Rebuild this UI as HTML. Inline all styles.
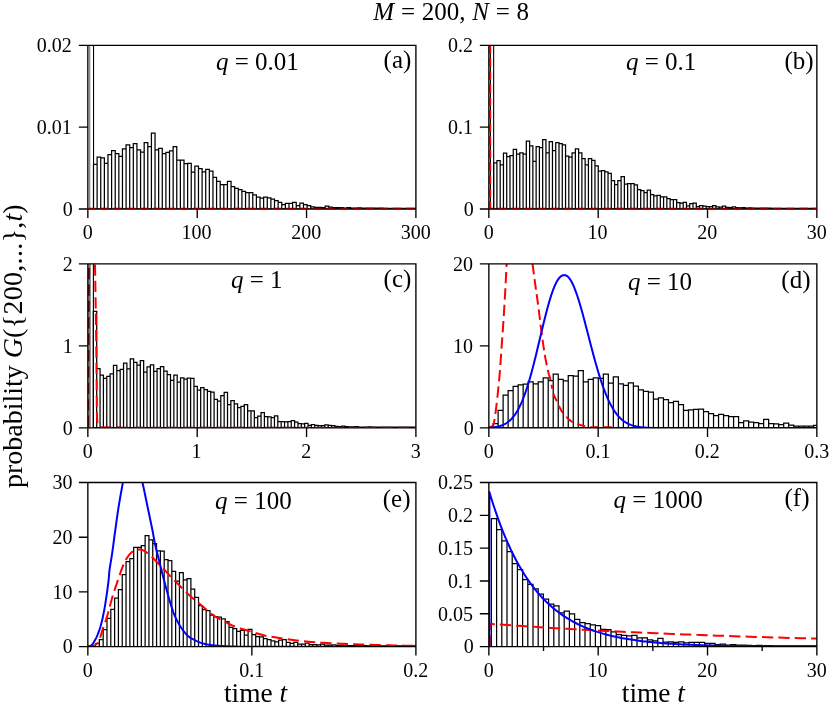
<!DOCTYPE html>
<html><head><meta charset="utf-8"><title>fig</title>
<style>
html,body{margin:0;padding:0;background:#fff;}
svg{display:block;will-change:transform}
text{font-family:"Liberation Serif",serif;fill:#000}
.tk{font-size:20px}
.t25{font-size:25px}
.t28{font-size:28px}
.t27{font-size:27.4px}
.i{font-style:italic}
</style></head><body>
<svg width="830" height="704" viewBox="0 0 830 704">
<rect width="830" height="704" fill="#fff"/>
<defs>
<clipPath id="c0"><rect x="87.85" y="45.3" width="328.05" height="163.7"/></clipPath>
<clipPath id="c1"><rect x="488.85" y="45.3" width="328" height="163.7"/></clipPath>
<clipPath id="c2"><rect x="87.85" y="263.85" width="328.05" height="164.05"/></clipPath>
<clipPath id="c3"><rect x="488.85" y="263.85" width="328" height="164.05"/></clipPath>
<clipPath id="c4"><rect x="87.85" y="482.5" width="328.05" height="164.1"/></clipPath>
<clipPath id="c5"><rect x="488.85" y="482.5" width="328" height="164.1"/></clipPath>
</defs>
<g clip-path="url(#c0)">
<path d="M89.75 209V30" stroke="#666" stroke-width="1" fill="none"/>
<path d="M93.55 209V30" stroke="#000" stroke-width="1.1" fill="none"/>
<path d="M93.5 209V164.3H97.12V209Z M97.12 209V157.1H100.74V209Z M100.74 209V157.8H104.36V209Z M104.36 209V163.3H107.98V209Z M107.98 209V154.6H111.6V209Z M111.6 209V150.6H115.22V209Z M115.22 209V153.5H118.84V209Z M118.84 209V156.4H122.46V209Z M122.46 209V148.8H126.08V209Z M126.08 209V144.8H129.7V209Z M129.7 209V147.7H133.32V209Z M133.32 209V143.6H136.94V209Z M136.94 209V149.9H140.56V209Z M140.56 209V152H144.18V209Z M144.18 209V142.6H147.8V209Z M147.8 209V146.5H151.42V209Z M151.42 209V133.2H155.04V209Z M155.04 209V149.9H158.66V209Z M158.66 209V148.4H162.28V209Z M162.28 209V153.5H165.9V209Z M165.9 209V152.3H169.52V209Z M169.52 209V150.9H173.14V209Z M173.14 209V146.5H176.76V209Z M176.76 209V160H180.38V209Z M180.38 209V160H184V209Z M184 209V163.6H187.62V209Z M187.62 209V163.3H191.24V209Z M191.24 209V172H194.86V209Z M194.86 209V166.1H198.48V209Z M198.48 209V168.7H202.1V209Z M202.1 209V171.9H205.72V209Z M205.72 209V169.3H209.34V209Z M209.34 209V171.2H212.96V209Z M212.96 209V177.4H216.58V209Z M216.58 209V181.3H220.2V209Z M220.2 209V184.6H223.82V209Z M223.82 209V184.6H227.44V209Z M227.44 209V181.3H231.06V209Z M231.06 209V186.7H234.68V209Z M234.68 209V188.3H238.3V209Z M238.3 209V189.6H241.92V209Z M241.92 209V191.4H245.54V209Z M245.54 209V192.5H249.16V209Z M249.16 209V192.5H252.78V209Z M252.78 209V194.8H256.4V209Z M256.4 209V197.2H260.02V209Z M260.02 209V198.2H263.64V209Z M263.64 209V197.2H267.26V209Z M267.26 209V197.9H270.88V209Z M270.88 209V199H274.5V209Z M274.5 209V200.5H278.12V209Z M278.12 209V202.3H281.74V209Z M281.74 209V204.5H285.36V209Z M285.36 209V203.3H288.98V209Z M288.98 209V203.3H292.6V209Z M292.6 209V202.3H296.22V209Z M296.22 209V205.5H299.84V209Z M299.84 209V203H303.46V209Z M303.46 209V204.5H307.08V209Z M307.08 209V205.5H310.7V209Z M310.7 209V206.9H314.32V209Z M314.32 209V207.4H317.94V209Z M317.94 209V207.4H321.56V209Z M321.56 209V207.6H325.18V209Z M325.18 209V206.2H328.8V209Z M328.8 209V207H332.42V209Z M332.42 209V207.5H336.04V209Z M336.04 209V207.7H339.66V209Z M339.66 209V207.5H343.28V209Z M343.28 209V208H346.9V209Z M346.9 209V207.6H350.52V209Z M350.52 209V208H354.14V209Z M354.14 209V208H357.76V209Z M357.76 209V207.8H361.38V209Z M361.38 209V208.1H365V209Z M365 209V208.1H368.62V209Z M368.62 209V208H372.24V209Z M372.24 209V208.2H375.86V209Z M375.86 209V208.2H379.48V209Z M379.48 209V208.2H383.1V209Z M383.1 209V208.3H386.72V209Z M386.72 209V208.3H390.34V209Z M390.34 209V208.3H393.96V209Z M393.96 209V208.3H397.58V209Z M397.58 209V208.3H401.2V209Z M401.2 209V208.3H404.82V209Z M404.82 209V208.3H408.44V209Z M408.44 209V208.3H412.06V209Z M412.06 209V208.3H415.68V209Z M415.68 209V208.3H419.3V209Z" stroke="#000" stroke-width="1.25" fill="#fff" stroke-linejoin="miter"/>
</g>
<g clip-path="url(#c1)">
<path d="M490.4 209V30" stroke="#000" stroke-width="1.1" fill="none"/>
<path d="M493.65 209V162.9H496.92V209Z M496.92 209V160.7H500.19V209Z M500.19 209V164.8H503.45V209Z M503.45 209V153.2H506.72V209Z M506.72 209V156.7H509.99V209Z M509.99 209V155.7H513.26V209Z M513.26 209V149.4H516.53V209Z M516.53 209V154.2H519.79V209Z M519.79 209V152.8H523.06V209Z M523.06 209V154.2H526.33V209Z M526.33 209V141.2H529.6V209Z M529.6 209V145.9H532.87V209Z M532.87 209V161.4H536.13V209Z M536.13 209V146.5H539.4V209Z M539.4 209V147.7H542.67V209Z M542.67 209V139.7H545.94V209Z M545.94 209V152.8H549.21V209Z M549.21 209V141.6H552.47V209Z M552.47 209V150.6H555.74V209Z M555.74 209V142.6H559.01V209Z M559.01 209V143.6H562.28V209Z M562.28 209V144.8H565.55V209Z M565.55 209V156.1H568.81V209Z M568.81 209V157.1H572.08V209Z M572.08 209V152.8H575.35V209Z M575.35 209V148.8H578.62V209Z M578.62 209V152.8H581.89V209Z M581.89 209V158.6H585.15V209Z M585.15 209V164.8H588.42V209Z M588.42 209V158.6H591.69V209Z M591.69 209V160.4H594.96V209Z M594.96 209V165.8H598.23V209Z M598.23 209V171.2H601.49V209Z M601.49 209V170.5H604.76V209Z M604.76 209V171.9H608.03V209Z M608.03 209V173.4H611.3V209Z M611.3 209V180.6H614.57V209Z M614.57 209V184.6H617.83V209Z M617.83 209V180.6H621.1V209Z M621.1 209V176.6H624.37V209Z M624.37 209V184.2H627.64V209Z M627.64 209V183.5H630.91V209Z M630.91 209V183.5H634.17V209Z M634.17 209V184.9H637.44V209Z M637.44 209V189.6H640.71V209Z M640.71 209V190.7H643.98V209Z M643.98 209V192.5H647.25V209Z M647.25 209V190H650.51V209Z M650.51 209V194.6H653.78V209Z M653.78 209V195.8H657.05V209Z M657.05 209V195.3H660.32V209Z M660.32 209V196.8H663.59V209Z M663.59 209V196.8H666.85V209Z M666.85 209V198.7H670.12V209Z M670.12 209V199.7H673.39V209Z M673.39 209V199.7H676.66V209Z M676.66 209V202.6H679.93V209Z M679.93 209V203H683.19V209Z M683.19 209V202.3H686.46V209Z M686.46 209V205.9H689.73V209Z M689.73 209V203.7H693V209Z M693 209V203H696.27V209Z M696.27 209V206.6H699.53V209Z M699.53 209V205.5H702.8V209Z M702.8 209V206.2H706.07V209Z M706.07 209V206.6H709.34V209Z M709.34 209V206.6H712.61V209Z M712.61 209V205.5H715.87V209Z M715.87 209V206.8H719.14V209Z M719.14 209V207H722.41V209Z M722.41 209V206.2H725.68V209Z M725.68 209V207.3H728.95V209Z M728.95 209V207.5H732.21V209Z M732.21 209V206.8H735.48V209Z M735.48 209V207.6H738.75V209Z M738.75 209V207.8H742.02V209Z M742.02 209V207.5H745.29V209Z M745.29 209V208H748.55V209Z M748.55 209V207.9H751.82V209Z M751.82 209V208H755.09V209Z M755.09 209V208.1H758.36V209Z M758.36 209V208.1H761.63V209Z M761.63 209V208.2H764.89V209Z M764.89 209V208.2H768.16V209Z M768.16 209V208.2H771.43V209Z M771.43 209V208.3H774.7V209Z M774.7 209V208.3H777.97V209Z M777.97 209V208.3H781.23V209Z M781.23 209V208.3H784.5V209Z M784.5 209V208.3H787.77V209Z M787.77 209V208.3H791.04V209Z M791.04 209V208.3H794.31V209Z M794.31 209V208.3H797.57V209Z M797.57 209V208.3H800.84V209Z M800.84 209V208.3H804.11V209Z M804.11 209V208.3H807.38V209Z M807.38 209V208.3H810.65V209Z M810.65 209V208.3H813.91V209Z M813.91 209V208.3H817.18V209Z" stroke="#000" stroke-width="1.25" fill="#fff" stroke-linejoin="miter"/>
<path d="M493.65 209V30" stroke="#000" stroke-width="1.1" fill="none"/>
<path d="M490.2 209V45.3" stroke="#ff0000" stroke-width="2" stroke-dasharray="8.7 4.35" stroke-dashoffset="1.4" fill="none"/>
</g>
<g clip-path="url(#c2)">
<rect x="88.3" y="200" width="2.5" height="300" fill="#7c7c7c"/>
<path d="M87.9 427.9L89.1 260.85" stroke="#8b0000" stroke-width="2.1" stroke-dasharray="11.3 5.1" stroke-dashoffset="-1" fill="none"/>
<path d="M93.35 427.9V311.3H96.7V427.9Z M96.7 427.9V368.5H100.06V427.9Z M100.06 427.9V375.1H103.41V427.9Z M103.41 427.9V378.4H106.77V427.9Z M106.77 427.9V376.4H110.12V427.9Z M110.12 427.9V373.8H113.47V427.9Z M113.47 427.9V365.4H116.83V427.9Z M116.83 427.9V370.7H120.18V427.9Z M120.18 427.9V369.4H123.54V427.9Z M123.54 427.9V363.2H126.89V427.9Z M126.89 427.9V368.9H130.24V427.9Z M130.24 427.9V358.8H133.6V427.9Z M133.6 427.9V362.3H136.95V427.9Z M136.95 427.9V365.2H140.31V427.9Z M140.31 427.9V360.5H143.66V427.9Z M143.66 427.9V372.1H147.01V427.9Z M147.01 427.9V366.8H150.37V427.9Z M150.37 427.9V364.8H153.72V427.9Z M153.72 427.9V371.4H157.08V427.9Z M157.08 427.9V368.5H160.43V427.9Z M160.43 427.9V366.5H163.78V427.9Z M163.78 427.9V371.1H167.14V427.9Z M167.14 427.9V374.5H170.49V427.9Z M170.49 427.9V380.4H173.85V427.9Z M173.85 427.9V375.1H177.2V427.9Z M177.2 427.9V382.1H180.55V427.9Z M180.55 427.9V377.8H183.91V427.9Z M183.91 427.9V379.1H187.26V427.9Z M187.26 427.9V378H190.62V427.9Z M190.62 427.9V378.4H193.97V427.9Z M193.97 427.9V386.4H197.32V427.9Z M197.32 427.9V390.1H200.68V427.9Z M200.68 427.9V387.7H204.03V427.9Z M204.03 427.9V389.7H207.39V427.9Z M207.39 427.9V391.4H210.74V427.9Z M210.74 427.9V392H214.09V427.9Z M214.09 427.9V399.4H217.45V427.9Z M217.45 427.9V401H220.8V427.9Z M220.8 427.9V395.7H224.16V427.9Z M224.16 427.9V392.4H227.51V427.9Z M227.51 427.9V404.5H230.86V427.9Z M230.86 427.9V400.7H234.22V427.9Z M234.22 427.9V403.9H237.57V427.9Z M237.57 427.9V407.6H240.93V427.9Z M240.93 427.9V406.3H244.28V427.9Z M244.28 427.9V404.5H247.63V427.9Z M247.63 427.9V410.9H250.99V427.9Z M250.99 427.9V410.9H254.34V427.9Z M254.34 427.9V417.5H257.7V427.9Z M257.7 427.9V416.2H261.05V427.9Z M261.05 427.9V412.6H264.4V427.9Z M264.4 427.9V416.6H267.76V427.9Z M267.76 427.9V416.9H271.11V427.9Z M271.11 427.9V417.5H274.47V427.9Z M274.47 427.9V415.8H277.82V427.9Z M277.82 427.9V421.5H281.17V427.9Z M281.17 427.9V421.5H284.53V427.9Z M284.53 427.9V421.8H287.88V427.9Z M287.88 427.9V421.5H291.24V427.9Z M291.24 427.9V420.6H294.59V427.9Z M294.59 427.9V422.2H297.94V427.9Z M297.94 427.9V423.5H301.3V427.9Z M301.3 427.9V423.9H304.65V427.9Z M304.65 427.9V423.4H308.01V427.9Z M308.01 427.9V425.4H311.36V427.9Z M311.36 427.9V424.5H314.71V427.9Z M314.71 427.9V425.4H318.07V427.9Z M318.07 427.9V425.7H321.42V427.9Z M321.42 427.9V425.7H324.78V427.9Z M324.78 427.9V424.9H328.13V427.9Z M328.13 427.9V425.4H331.48V427.9Z M331.48 427.9V425.7H334.84V427.9Z M334.84 427.9V426.3H338.19V427.9Z M338.19 427.9V426.5H341.55V427.9Z M341.55 427.9V426H344.9V427.9Z M344.9 427.9V426.6H348.25V427.9Z M348.25 427.9V426.8H351.61V427.9Z M351.61 427.9V426.8H354.96V427.9Z M354.96 427.9V426.5H358.32V427.9Z M358.32 427.9V427H361.67V427.9Z M361.67 427.9V427H365.02V427.9Z M365.02 427.9V427H368.38V427.9Z M368.38 427.9V426.8H371.73V427.9Z M371.73 427.9V427.1H375.09V427.9Z M375.09 427.9V427.1H378.44V427.9Z M378.44 427.9V427.1H381.79V427.9Z M381.79 427.9V427.2H385.15V427.9Z M385.15 427.9V427.2H388.5V427.9Z M388.5 427.9V427.2H391.86V427.9Z M391.86 427.9V427.2H395.21V427.9Z M395.21 427.9V427.2H398.56V427.9Z M398.56 427.9V427.2H401.92V427.9Z M401.92 427.9V427.2H405.27V427.9Z M405.27 427.9V427.2H408.63V427.9Z M408.63 427.9V427.2H411.98V427.9Z M411.98 427.9V427.2H415.33V427.9Z M415.33 427.9V427.2H418.69V427.9Z" stroke="#000" stroke-width="1.25" fill="#fff" stroke-linejoin="miter"/>
<path d="M93.4 427.9V30" stroke="#000" stroke-width="1.1" fill="none"/>
<path d="M94.7 250 L94.72 250.93 L94.75 252 L94.78 253.26 L94.81 254.75 L94.85 256.52 L94.9 258.62 L94.95 261.1 L95 264 L95.06 267.42 L95.13 271.36 L95.2 275.71 L95.28 280.38 L95.36 285.24 L95.44 290.2 L95.52 295.16 L95.6 300 L95.68 304.81 L95.75 309.72 L95.83 314.71 L95.91 319.75 L95.99 324.82 L96.06 329.91 L96.13 334.97 L96.2 340 L96.26 345.03 L96.32 350.12 L96.37 355.22 L96.42 360.31 L96.46 365.37 L96.51 370.35 L96.55 375.24 L96.6 380 L96.64 384.79 L96.68 389.7 L96.71 394.62 L96.75 399.42 L96.78 403.98 L96.83 408.17 L96.88 411.89 L96.95 415 L97.03 417.44 L97.12 419.29 L97.23 420.66 L97.33 421.67 L97.45 422.43 L97.57 423.04 L97.68 423.63 L97.8 424.3 L97.9 424.97 L97.99 425.49 L98.07 425.9 L98.15 426.21 L98.26 426.45 L98.39 426.64 L98.57 426.82 L98.8 427 L98.99 427.16 L99.1 427.27 L99.19 427.34 L99.34 427.37 L99.62 427.38 L100.11 427.38 L100.88 427.38 L102 427.4 L103.66 427.42 L105.88 427.43 L108.46 427.43 L111.2 427.42 L113.92 427.42 L116.42 427.41 L118.51 427.4 L120 427.4" stroke="#ff0000" stroke-width="2" stroke-dasharray="11.3 5.1" stroke-dashoffset="2" fill="none"/>
</g>
<g clip-path="url(#c3)">
<path d="M493.1 427.9V423.6H498.11V427.9Z M498.11 427.9V410.4H503.12V427.9Z M503.12 427.9V395.2H508.13V427.9Z M508.13 427.9V390.6H513.14V427.9Z M513.14 427.9V386.3H518.15V427.9Z M518.15 427.9V384.8H523.16V427.9Z M523.16 427.9V384.1H528.17V427.9Z M528.17 427.9V381.9H533.18V427.9Z M533.18 427.9V383.8H538.19V427.9Z M538.19 427.9V381.9H543.2V427.9Z M543.2 427.9V377.9H548.21V427.9Z M548.21 427.9V380.5H553.22V427.9Z M553.22 427.9V374H558.23V427.9Z M558.23 427.9V379.3H563.24V427.9Z M563.24 427.9V380.8H568.25V427.9Z M568.25 427.9V375.7H573.26V427.9Z M573.26 427.9V376.1H578.27V427.9Z M578.27 427.9V370.6H583.28V427.9Z M583.28 427.9V381.9H588.29V427.9Z M588.29 427.9V379.3H593.3V427.9Z M593.3 427.9V377.9H598.31V427.9Z M598.31 427.9V378.3H603.32V427.9Z M603.32 427.9V374.2H608.33V427.9Z M608.33 427.9V383.1H613.34V427.9Z M613.34 427.9V376.9H618.35V427.9Z M618.35 427.9V383.8H623.36V427.9Z M623.36 427.9V385.3H628.37V427.9Z M628.37 427.9V382.8H633.38V427.9Z M633.38 427.9V386H638.39V427.9Z M638.39 427.9V389.9H643.4V427.9Z M643.4 427.9V391.3H648.41V427.9Z M648.41 427.9V392H653.42V427.9Z M653.42 427.9V399H658.43V427.9Z M658.43 427.9V397.8H663.44V427.9Z M663.44 427.9V399.6H668.45V427.9Z M668.45 427.9V402.5H673.46V427.9Z M673.46 427.9V401.4H678.47V427.9Z M678.47 427.9V404.6H683.48V427.9Z M683.48 427.9V410.4H688.49V427.9Z M688.49 427.9V409.8H693.5V427.9Z M693.5 427.9V409.4H698.51V427.9Z M698.51 427.9V409H703.52V427.9Z M703.52 427.9V411.5H708.53V427.9Z M708.53 427.9V413.7H713.54V427.9Z M713.54 427.9V415.7H718.55V427.9Z M718.55 427.9V414.4H723.56V427.9Z M723.56 427.9V415.5H728.57V427.9Z M728.57 427.9V416.7H733.58V427.9Z M733.58 427.9V416.7H738.59V427.9Z M738.59 427.9V422.7H743.6V427.9Z M743.6 427.9V420.9H748.61V427.9Z M748.61 427.9V422H753.62V427.9Z M753.62 427.9V422.7H758.63V427.9Z M758.63 427.9V423.5H763.64V427.9Z M763.64 427.9V419.4H768.65V427.9Z M768.65 427.9V423.5H773.66V427.9Z M773.66 427.9V423.9H778.67V427.9Z M778.67 427.9V424.5H783.68V427.9Z M783.68 427.9V423H788.69V427.9Z M788.69 427.9V425H793.7V427.9Z M793.7 427.9V426H798.71V427.9Z M798.71 427.9V426.2H803.72V427.9Z M803.72 427.9V426.2H808.73V427.9Z M808.73 427.9V426.2H813.74V427.9Z M813.74 427.9V425.4H818.75V427.9Z" stroke="#000" stroke-width="1.25" fill="#fff" stroke-linejoin="miter"/>
<path d="M489.2 427.6 L489.38 427.53 L489.62 427.44 L489.9 427.34 L490.21 427.22 L490.54 427.08 L490.88 426.91 L491.2 426.72 L491.5 426.5 L491.78 426.35 L492.04 426.31 L492.31 426.31 L492.57 426.26 L492.84 426.06 L493.11 425.64 L493.4 424.92 L493.7 423.8 L494.02 422.29 L494.35 420.47 L494.7 418.38 L495.05 416.04 L495.41 413.5 L495.77 410.79 L496.14 407.95 L496.5 405 L496.87 401.84 L497.26 398.4 L497.66 394.74 L498.06 390.95 L498.45 387.1 L498.82 383.28 L499.18 379.55 L499.5 376 L499.79 372.63 L500.05 369.38 L500.28 366.21 L500.51 363.06 L500.72 359.91 L500.94 356.71 L501.16 353.42 L501.4 350 L501.65 346.44 L501.92 342.78 L502.19 339.04 L502.46 335.25 L502.73 331.43 L502.99 327.59 L503.25 323.78 L503.5 320 L503.74 316.22 L503.98 312.41 L504.22 308.57 L504.45 304.75 L504.67 300.96 L504.89 297.22 L505.1 293.56 L505.3 290 L505.49 286.58 L505.66 283.29 L505.82 280.09 L505.98 276.94 L506.13 273.79 L506.28 270.62 L506.44 267.37 L506.6 264 L506.78 260.32 L506.98 256.28 L507.18 252.07 L507.38 247.88 L507.57 243.88 L507.75 240.28 L507.89 237.26 L508 235" stroke="#ff0000" stroke-width="2" stroke-dasharray="11.3 5.1" fill="none"/>
<path d="M532.55 263.9 L532.74 265.36 L532.99 267.25 L533.28 269.49 L533.61 272.02 L533.96 274.74 L534.34 277.58 L534.72 280.46 L535.1 283.3 L535.5 286.19 L535.92 289.25 L536.37 292.43 L536.83 295.69 L537.29 298.98 L537.74 302.26 L538.18 305.48 L538.6 308.6 L538.99 311.63 L539.35 314.62 L539.71 317.57 L540.05 320.5 L540.39 323.42 L540.75 326.33 L541.11 329.26 L541.5 332.2 L541.91 335.21 L542.34 338.3 L542.78 341.41 L543.23 344.52 L543.68 347.56 L544.12 350.51 L544.57 353.3 L545 355.9 L545.43 358.34 L545.87 360.69 L546.32 362.92 L546.76 365.04 L547.18 367.01 L547.59 368.84 L547.96 370.51 L548.3 372 L548.59 373.23 L548.85 374.17 L549.07 374.9 L549.27 375.51 L549.46 376.07 L549.66 376.67 L549.87 377.38 L550.1 378.3 L550.37 379.47 L550.67 380.86 L550.99 382.36 L551.31 383.89 L551.62 385.38 L551.9 386.74 L552.13 387.87 L552.3 388.7" stroke="#ff0000" stroke-width="2" stroke-dasharray="10.6 4.7" fill="none"/>
<path d="M553.4 393.8 L553.54 394.13 L553.72 394.57 L553.94 395.1 L554.19 395.69 L554.45 396.3 L554.71 396.91 L554.96 397.48 L555.2 398 L555.43 398.46 L555.66 398.91 L555.89 399.34 L556.12 399.76 L556.35 400.17 L556.58 400.58 L556.79 400.99 L557 401.4 L557.19 401.8 L557.36 402.19 L557.52 402.56 L557.68 402.94 L557.84 403.32 L558.01 403.72 L558.19 404.14 L558.4 404.6 L558.63 405.09 L558.86 405.62 L559.11 406.17 L559.37 406.73 L559.65 407.3 L559.92 407.88 L560.21 408.45 L560.5 409 L560.8 409.55 L561.1 410.1 L561.41 410.65 L561.72 411.2 L562.05 411.74 L562.39 412.28 L562.74 412.8 L563.1 413.3 L563.48 413.79 L563.88 414.27 L564.3 414.73 L564.72 415.19 L565.15 415.63 L565.57 416.07 L565.99 416.49 L566.4 416.9 L566.8 417.3 L567.19 417.69 L567.58 418.07 L567.97 418.44 L568.35 418.79 L568.74 419.14 L569.12 419.48 L569.5 419.8 L569.87 420.11 L570.22 420.41 L570.56 420.69 L570.9 420.96 L571.25 421.23 L571.63 421.49 L572.04 421.74 L572.5 422 L573.01 422.26 L573.58 422.51 L574.18 422.76 L574.8 423.01 L575.43 423.24 L576.05 423.47 L576.64 423.69 L577.2 423.9 L577.72 424.09 L578.21 424.27 L578.69 424.44 L579.16 424.61 L579.61 424.76 L580.07 424.91 L580.53 425.06 L581 425.2 L581.46 425.34 L581.91 425.48 L582.35 425.61 L582.79 425.74 L583.25 425.86 L583.73 425.98 L584.24 426.09 L584.8 426.2 L585.44 426.31 L586.18 426.41 L586.98 426.52 L587.79 426.61 L588.57 426.7 L589.27 426.78 L589.86 426.85 L590.3 426.9" stroke="#ff0000" stroke-width="2" stroke-dasharray="8.3 5.0" fill="none"/>
<path d="M590.3 427H612" stroke="#e00000" stroke-width="1.6" stroke-dasharray="8.2 5.0" fill="none"/>
<path d="M488.85 427.74 L489.51 427.69 L490.16 427.65 L490.82 427.59 L491.48 427.54 L492.14 427.47 L492.79 427.4 L493.45 427.32 L494.11 427.24 L494.77 427.14 L495.42 427.04 L496.08 426.93 L496.74 426.8 L497.4 426.67 L498.05 426.52 L498.71 426.36 L499.37 426.18 L500.02 425.99 L500.68 425.79 L501.34 425.56 L502 425.32 L502.65 425.06 L503.31 424.78 L503.97 424.47 L504.63 424.14 L505.28 423.78 L505.94 423.4 L506.6 422.99 L507.25 422.55 L507.91 422.08 L508.57 421.58 L509.23 421.04 L509.88 420.46 L510.54 419.85 L511.2 419.2 L511.86 418.51 L512.51 417.77 L513.17 416.99 L513.83 416.16 L514.49 415.29 L515.14 414.36 L515.8 413.39 L516.46 412.36 L517.11 411.28 L517.77 410.14 L518.43 408.94 L519.09 407.69 L519.74 406.38 L520.4 405.01 L521.06 403.57 L521.72 402.08 L522.37 400.52 L523.03 398.9 L523.69 397.22 L524.34 395.47 L525 393.66 L525.66 391.78 L526.32 389.85 L526.97 387.85 L527.63 385.79 L528.29 383.67 L528.95 381.49 L529.6 379.25 L530.26 376.96 L530.92 374.61 L531.58 372.21 L532.23 369.77 L532.89 367.27 L533.55 364.74 L534.2 362.16 L534.86 359.54 L535.52 356.89 L536.18 354.21 L536.83 351.51 L537.49 348.78 L538.15 346.04 L538.81 343.28 L539.46 340.51 L540.12 337.74 L540.78 334.97 L541.44 332.21 L542.09 329.46 L542.75 326.73 L543.41 324.01 L544.06 321.33 L544.72 318.68 L545.38 316.06 L546.04 313.49 L546.69 310.97 L547.35 308.5 L548.01 306.09 L548.67 303.74 L549.32 301.46 L549.98 299.25 L550.64 297.12 L551.29 295.07 L551.95 293.11 L552.61 291.24 L553.27 289.45 L553.92 287.77 L554.58 286.18 L555.24 284.7 L555.9 283.32 L556.55 282.04 L557.21 280.87 L557.87 279.82 L558.53 278.87 L559.18 278.03 L559.84 277.3 L560.5 276.67 L561.15 276.16 L561.81 275.75 L562.47 275.45 L563.13 275.24 L563.78 275.13 L564.44 275.1 L565.1 275.17 L565.76 275.35 L566.41 275.64 L567.07 276.05 L567.73 276.58 L568.39 277.21 L569.04 277.96 L569.7 278.82 L570.36 279.78 L571.01 280.85 L571.67 282.02 L572.33 283.29 L572.99 284.66 L573.64 286.13 L574.3 287.68 L574.96 289.32 L575.62 291.05 L576.27 292.86 L576.93 294.75 L577.59 296.7 L578.24 298.73 L578.9 300.83 L579.56 302.98 L580.22 305.19 L580.87 307.45 L581.53 309.76 L582.19 312.12 L582.85 314.51 L583.5 316.94 L584.16 319.4 L584.82 321.88 L585.48 324.39 L586.13 326.91 L586.79 329.45 L587.45 331.99 L588.1 334.54 L588.76 337.09 L589.42 339.64 L590.08 342.19 L590.73 344.72 L591.39 347.24 L592.05 349.74 L592.71 352.22 L593.36 354.68 L594.02 357.12 L594.68 359.52 L595.33 361.89 L595.99 364.23 L596.65 366.54 L597.31 368.8 L597.96 371.03 L598.62 373.21 L599.28 375.35 L599.94 377.44 L600.59 379.49 L601.25 381.49 L601.91 383.45 L602.57 385.35 L603.22 387.2 L603.88 389 L604.54 390.75 L605.19 392.45 L605.85 394.1 L606.51 395.7 L607.17 397.24 L607.82 398.73 L608.48 400.17 L609.14 401.57 L609.8 402.91 L610.45 404.2 L611.11 405.44 L611.77 406.63 L612.43 407.78 L613.08 408.88 L613.74 409.93 L614.4 410.94 L615.05 411.91 L615.71 412.83 L616.37 413.71 L617.03 414.55 L617.68 415.35 L618.34 416.12 L619 416.84 L619.66 417.53 L620.31 418.19 L620.97 418.81 L621.63 419.4 L622.28 419.95 L622.94 420.48 L623.6 420.98 L624.26 421.45 L624.91 421.9 L625.57 422.32 L626.23 422.71 L626.89 423.08 L627.54 423.43 L628.2 423.76 L628.86 424.07 L629.52 424.36 L630.17 424.63 L630.83 424.89 L631.49 425.12 L632.14 425.35 L632.8 425.55 L633.46 425.75 L634.12 425.93 L634.77 426.1 L635.43 426.25 L636.09 426.4 L636.75 426.53 L637.4 426.66 L638.06 426.78 L638.72 426.88 L639.38 426.98 L640.03 427.08 L640.69 427.16 L641.35 427.24 L642 427.31 L642.66 427.38 L643.32 427.44 L643.98 427.5 L644.63 427.55 L645.29 427.6 L645.95 427.65 L646.61 427.69 L647.26 427.72 L647.92 427.76 L648.58 427.79 L649.23 427.82 L649.89 427.85 L650.55 427.87 L651.21 427.89 L651.86 427.91 L652.52 427.93 L653.18 427.95 L653.84 427.96 L654.49 427.97 L655.15 427.99 L655.81 428 L656.47 428.01 L657.12 428.02 L657.78 428.03 L658.44 428.03 L659.09 428.04 L659.75 428.05 L660.41 428.05 L661.07 428.06 L661.72 428.06 L662.38 428.07 L663.04 428.07 L663.7 428.07 L664.35 428.08 L665.01 428.08 L665.67 428.08 L666.32 428.08 L666.98 428.08 L667.64 428.09 L668.3 428.09 L668.95 428.09 L669.61 428.09 L670.27 428.09 L670.93 428.09 L671.58 428.09 L672.24 428.09 L672.9 428.09 L673.56 428.1 L674.21 428.1 L674.87 428.1 L675.53 428.1 L676.18 428.1 L676.84 428.1 L677.5 428.1 L678.16 428.1 L678.81 428.1 L679.47 428.1 L680.13 428.1 L680.79 428.1 L681.44 428.1 L682.1 428.1 L682.76 428.1 L683.42 428.1 L684.07 428.1 L684.73 428.1 L685.39 428.1 L686.04 428.1 L686.7 428.1 L687.36 428.1 L688.02 428.1 L688.67 428.1 L689.33 428.1 L689.99 428.1 L690.65 428.1 L691.3 428.1 L691.96 428.1 L692.62 428.1 L693.27 428.1 L693.93 428.1 L694.59 428.1 L695.25 428.1 L695.9 428.1 L696.56 428.1 L697.22 428.1 L697.88 428.1 L698.53 428.1 L699.19 428.1 L699.85 428.1 L700.51 428.1 L701.16 428.1 L701.82 428.1 L702.48 428.1 L703.13 428.1 L703.79 428.1 L704.45 428.1 L705.11 428.1 L705.76 428.1 L706.42 428.1 L707.08 428.1 L707.74 428.1 L708.39 428.1 L709.05 428.1 L709.71 428.1 L710.37 428.1 L711.02 428.1 L711.68 428.1 L712.34 428.1 L712.99 428.1 L713.65 428.1 L714.31 428.1 L714.97 428.1 L715.62 428.1 L716.28 428.1 L716.94 428.1 L717.6 428.1 L718.25 428.1 L718.91 428.1 L719.57 428.1 L720.22 428.1 L720.88 428.1 L721.54 428.1 L722.2 428.1 L722.85 428.1 L723.51 428.1 L724.17 428.1 L724.83 428.1 L725.48 428.1 L726.14 428.1 L726.8 428.1 L727.46 428.1 L728.11 428.1 L728.77 428.1 L729.43 428.1 L730.08 428.1 L730.74 428.1 L731.4 428.1 L732.06 428.1 L732.71 428.1 L733.37 428.1 L734.03 428.1 L734.69 428.1 L735.34 428.1 L736 428.1 L736.66 428.1 L737.31 428.1 L737.97 428.1 L738.63 428.1 L739.29 428.1 L739.94 428.1 L740.6 428.1 L741.26 428.1 L741.92 428.1 L742.57 428.1 L743.23 428.1 L743.89 428.1 L744.55 428.1 L745.2 428.1 L745.86 428.1 L746.52 428.1 L747.17 428.1 L747.83 428.1 L748.49 428.1 L749.15 428.1 L749.8 428.1 L750.46 428.1 L751.12 428.1 L751.78 428.1 L752.43 428.1 L753.09 428.1 L753.75 428.1 L754.41 428.1 L755.06 428.1 L755.72 428.1 L756.38 428.1 L757.03 428.1 L757.69 428.1 L758.35 428.1 L759.01 428.1 L759.66 428.1 L760.32 428.1 L760.98 428.1 L761.64 428.1 L762.29 428.1 L762.95 428.1 L763.61 428.1 L764.26 428.1 L764.92 428.1 L765.58 428.1 L766.24 428.1 L766.89 428.1 L767.55 428.1 L768.21 428.1 L768.87 428.1 L769.52 428.1 L770.18 428.1 L770.84 428.1 L771.5 428.1 L772.15 428.1 L772.81 428.1 L773.47 428.1 L774.12 428.1 L774.78 428.1 L775.44 428.1 L776.1 428.1 L776.75 428.1 L777.41 428.1 L778.07 428.1 L778.73 428.1 L779.38 428.1 L780.04 428.1 L780.7 428.1 L781.36 428.1 L782.01 428.1 L782.67 428.1 L783.33 428.1 L783.98 428.1 L784.64 428.1 L785.3 428.1 L785.96 428.1 L786.61 428.1 L787.27 428.1 L787.93 428.1 L788.59 428.1 L789.24 428.1 L789.9 428.1 L790.56 428.1 L791.21 428.1 L791.87 428.1 L792.53 428.1 L793.19 428.1 L793.84 428.1 L794.5 428.1 L795.16 428.1 L795.82 428.1 L796.47 428.1 L797.13 428.1 L797.79 428.1 L798.45 428.1 L799.1 428.1 L799.76 428.1 L800.42 428.1 L801.07 428.1 L801.73 428.1 L802.39 428.1 L803.05 428.1 L803.7 428.1 L804.36 428.1 L805.02 428.1 L805.68 428.1 L806.33 428.1 L806.99 428.1 L807.65 428.1 L808.3 428.1 L808.96 428.1 L809.62 428.1 L810.28 428.1 L810.93 428.1 L811.59 428.1 L812.25 428.1 L812.91 428.1 L813.56 428.1 L814.22 428.1 L814.88 428.1 L815.54 428.1 L816.19 428.1 L816.85 428.1" stroke="#0000ff" stroke-width="2" fill="none"/>
</g>
<g clip-path="url(#c4)">
<path d="M95.54 646.6V643.6H99.35V646.6Z M99.35 646.6V639.6H103.17V646.6Z M103.17 646.6V629.7H106.98V646.6Z M106.98 646.6V618.4H110.8V646.6Z M110.8 646.6V609.4H114.61V646.6Z M114.61 646.6V598.1H118.42V646.6Z M118.42 646.6V589.5H122.24V646.6Z M122.24 646.6V574.6H126.05V646.6Z M126.05 646.6V561.6H129.87V646.6Z M129.87 646.6V558.6H133.68V646.6Z M133.68 646.6V547.3H137.49V646.6Z M137.49 646.6V547.3H141.31V646.6Z M141.31 646.6V545.6H145.12V646.6Z M145.12 646.6V535.7H148.94V646.6Z M148.94 646.6V539.9H152.75V646.6Z M152.75 646.6V543.5H156.56V646.6Z M156.56 646.6V550.8H160.38V646.6Z M160.38 646.6V551.2H164.19V646.6Z M164.19 646.6V559.5H168.01V646.6Z M168.01 646.6V560.7H171.82V646.6Z M171.82 646.6V571.3H175.63V646.6Z M175.63 646.6V581.2H179.45V646.6Z M179.45 646.6V572.5H183.26V646.6Z M183.26 646.6V579.8H187.08V646.6Z M187.08 646.6V578.6H190.89V646.6Z M190.89 646.6V589H194.7V646.6Z M194.7 646.6V597.3H198.52V646.6Z M198.52 646.6V605.5H202.33V646.6Z M202.33 646.6V609.5H206.15V646.6Z M206.15 646.6V610.5H209.96V646.6Z M209.96 646.6V615.1H213.77V646.6Z M213.77 646.6V616.6H217.59V646.6Z M217.59 646.6V617H221.4V646.6Z M221.4 646.6V618.9H225.22V646.6Z M225.22 646.6V621.6H229.03V646.6Z M229.03 646.6V627.4H232.84V646.6Z M232.84 646.6V628.6H236.66V646.6Z M236.66 646.6V631.4H240.47V646.6Z M240.47 646.6V630.4H244.29V646.6Z M244.29 646.6V635.1H248.1V646.6Z M248.1 646.6V629.3H251.91V646.6Z M251.91 646.6V634.6H255.73V646.6Z M255.73 646.6V636.5H259.54V646.6Z M259.54 646.6V636.8H263.36V646.6Z M263.36 646.6V638.7H267.17V646.6Z M267.17 646.6V639.7H270.98V646.6Z M270.98 646.6V640.8H274.8V646.6Z M274.8 646.6V641.9H278.61V646.6Z M278.61 646.6V640.1H282.43V646.6Z M282.43 646.6V639.7H286.24V646.6Z M286.24 646.6V642.3H290.05V646.6Z M290.05 646.6V643.3H293.87V646.6Z M293.87 646.6V642.3H297.68V646.6Z M297.68 646.6V644H301.5V646.6Z M301.5 646.6V644.2H305.31V646.6Z M305.31 646.6V643H309.12V646.6Z M309.12 646.6V644.5H312.94V646.6Z M312.94 646.6V644.6H316.75V646.6Z M316.75 646.6V644.8H320.57V646.6Z M320.57 646.6V644.2H324.38V646.6Z M324.38 646.6V645H328.19V646.6Z M328.19 646.6V645.2H332.01V646.6Z M332.01 646.6V644.8H335.82V646.6Z M335.82 646.6V645.3H339.64V646.6Z M339.64 646.6V645.4H343.45V646.6Z M343.45 646.6V645.2H347.26V646.6Z M347.26 646.6V645.5H351.08V646.6Z M351.08 646.6V645.6H354.89V646.6Z M354.89 646.6V645.6H358.71V646.6Z M358.71 646.6V645.5H362.52V646.6Z M362.52 646.6V645.7H366.33V646.6Z M366.33 646.6V645.8H370.15V646.6Z M370.15 646.6V645.8H373.96V646.6Z M373.96 646.6V645.8H377.78V646.6Z M377.78 646.6V645.9H381.59V646.6Z M381.59 646.6V645.9H385.4V646.6Z M385.4 646.6V645.9H389.22V646.6Z M389.22 646.6V645.9H393.03V646.6Z M393.03 646.6V645.9H396.85V646.6Z M396.85 646.6V645.9H400.66V646.6Z M400.66 646.6V645.9H404.47V646.6Z M404.47 646.6V645.9H408.29V646.6Z M408.29 646.6V645.9H412.1V646.6Z M412.1 646.6V645.9H415.92V646.6Z" stroke="#000" stroke-width="1.25" fill="#fff" stroke-linejoin="miter"/>
<path d="M88 646.4 L88.46 646.35 L89.09 646.28 L89.85 646.2 L90.68 646.11 L91.52 646.01 L92.35 645.89 L93.09 645.75 L93.7 645.6 L94.19 645.43 L94.61 645.24 L94.98 645.03 L95.31 644.81 L95.61 644.58 L95.9 644.33 L96.19 644.07 L96.5 643.8 L96.81 643.57 L97.1 643.39 L97.39 643.24 L97.66 643.05 L97.94 642.8 L98.24 642.43 L98.55 641.91 L98.9 641.2 L99.26 640.29 L99.64 639.23 L100.02 638.03 L100.43 636.71 L100.85 635.29 L101.3 633.79 L101.78 632.22 L102.3 630.6 L102.86 628.91 L103.47 627.13 L104.12 625.27 L104.79 623.33 L105.47 621.33 L106.16 619.26 L106.84 617.15 L107.5 615 L108.15 612.76 L108.8 610.39 L109.45 607.94 L110.1 605.45 L110.75 602.96 L111.4 600.51 L112.05 598.14 L112.7 595.9 L113.35 593.78 L114 591.74 L114.65 589.76 L115.3 587.83 L115.95 585.94 L116.6 584.06 L117.25 582.19 L117.9 580.3 L118.55 578.38 L119.2 576.42 L119.85 574.46 L120.5 572.52 L121.15 570.63 L121.8 568.81 L122.45 567.09 L123.1 565.5 L123.75 564.03 L124.4 562.65 L125.05 561.36 L125.69 560.15 L126.34 559.01 L126.99 557.95 L127.65 556.95 L128.3 556 L128.96 555.12 L129.62 554.31 L130.28 553.57 L130.95 552.89 L131.62 552.28 L132.28 551.73 L132.94 551.24 L133.6 550.8 L134.25 550.42 L134.91 550.12 L135.56 549.87 L136.21 549.69 L136.85 549.55 L137.5 549.46 L138.15 549.42 L138.8 549.4 L139.44 549.42 L140.06 549.46 L140.68 549.55 L141.29 549.69 L141.93 549.87 L142.58 550.12 L143.27 550.42 L144 550.8 L144.78 551.26 L145.61 551.79 L146.46 552.39 L147.34 553.05 L148.24 553.75 L149.14 554.48 L150.03 555.24 L150.9 556 L151.76 556.79 L152.62 557.62 L153.48 558.48 L154.34 559.37 L155.21 560.28 L156.07 561.19 L156.93 562.1 L157.8 563 L158.67 563.89 L159.55 564.78 L160.42 565.67 L161.3 566.57 L162.18 567.47 L163.05 568.37 L163.93 569.28 L164.8 570.2 L165.67 571.13 L166.53 572.07 L167.39 573.02 L168.26 573.97 L169.12 574.92 L169.98 575.86 L170.84 576.79 L171.7 577.7 L172.56 578.59 L173.42 579.46 L174.28 580.33 L175.14 581.18 L176.01 582.03 L176.87 582.88 L177.73 583.74 L178.6 584.6 L179.47 585.47 L180.35 586.35 L181.22 587.24 L182.1 588.12 L182.98 589.01 L183.85 589.88 L184.73 590.75 L185.6 591.6 L186.47 592.44 L187.33 593.28 L188.19 594.11 L189.06 594.94 L189.92 595.75 L190.78 596.55 L191.64 597.33 L192.5 598.1 L193.37 598.85 L194.26 599.58 L195.14 600.31 L196.03 601.01 L196.91 601.71 L197.77 602.38 L198.6 603.05 L199.4 603.7 L200.17 604.33 L200.92 604.95 L201.64 605.55 L202.35 606.14 L203.04 606.71 L203.71 607.28 L204.36 607.84 L205 608.4 L205.6 608.94 L206.14 609.47 L206.65 609.99 L207.15 610.49 L207.66 611 L208.21 611.52 L208.82 612.05 L209.5 612.6 L210.27 613.18 L211.11 613.78 L212 614.4 L212.93 615.02 L213.88 615.64 L214.84 616.25 L215.78 616.84 L216.7 617.4 L217.6 617.93 L218.5 618.45 L219.4 618.94 L220.3 619.42 L221.2 619.9 L222.1 620.37 L223 620.83 L223.9 621.3 L224.8 621.77 L225.7 622.24 L226.6 622.7 L227.49 623.16 L228.39 623.61 L229.29 624.06 L230.2 624.49 L231.1 624.9 L232.01 625.3 L232.92 625.69 L233.83 626.07 L234.75 626.44 L235.67 626.79 L236.58 627.14 L237.49 627.48 L238.4 627.8 L239.3 628.11 L240.21 628.4 L241.11 628.68 L242.01 628.94 L242.9 629.21 L243.8 629.47 L244.7 629.73 L245.6 630 L246.5 630.28 L247.4 630.55 L248.3 630.83 L249.2 631.11 L250.1 631.38 L251 631.66 L251.9 631.93 L252.8 632.2 L253.7 632.47 L254.6 632.74 L255.5 633.01 L256.39 633.28 L257.29 633.54 L258.19 633.8 L259.1 634.05 L260 634.3 L260.91 634.54 L261.82 634.79 L262.73 635.03 L263.65 635.26 L264.57 635.49 L265.48 635.71 L266.39 635.91 L267.3 636.1 L268.2 636.27 L269.11 636.42 L270.01 636.56 L270.91 636.69 L271.8 636.81 L272.7 636.93 L273.6 637.06 L274.5 637.2 L275.4 637.35 L276.3 637.5 L277.2 637.65 L278.09 637.81 L278.99 637.96 L279.89 638.11 L280.8 638.26 L281.7 638.4 L282.61 638.53 L283.52 638.66 L284.43 638.79 L285.35 638.91 L286.27 639.03 L287.18 639.15 L288.09 639.28 L289 639.4 L289.9 639.53 L290.81 639.66 L291.71 639.79 L292.61 639.92 L293.5 640.05 L294.4 640.17 L295.3 640.29 L296.2 640.4 L297.1 640.5 L298 640.59 L298.9 640.68 L299.8 640.76 L300.7 640.84 L301.6 640.92 L302.5 641.01 L303.4 641.1 L304.22 641.19 L304.91 641.28 L305.56 641.37 L306.24 641.46 L307.01 641.56 L307.94 641.66 L309.12 641.78 L310.6 641.9 L312.37 642.04 L314.34 642.19 L316.52 642.36 L318.88 642.52 L321.41 642.7 L324.12 642.87 L326.98 643.04 L330 643.2 L333.24 643.36 L336.75 643.51 L340.47 643.67 L344.34 643.83 L348.28 643.98 L352.25 644.12 L356.18 644.27 L360 644.4 L363.78 644.53 L367.59 644.65 L371.43 644.77 L375.25 644.89 L379.04 645 L382.78 645.1 L386.44 645.2 L390 645.3 L393.62 645.39 L397.39 645.49 L401.19 645.57 L404.88 645.66 L408.33 645.73 L411.42 645.8 L414.02 645.86 L416 645.9" stroke="#ff0000" stroke-width="2" stroke-dasharray="11.3 5.1" fill="none"/>
<path d="M87.9 646.7 L88.03 646.67 L88.2 646.64 L88.41 646.61 L88.64 646.57 L88.88 646.52 L89.13 646.46 L89.37 646.39 L89.6 646.3 L89.82 646.2 L90.05 646.09 L90.28 645.96 L90.51 645.82 L90.74 645.68 L90.97 645.53 L91.19 645.37 L91.4 645.2 L91.6 645.04 L91.78 644.88 L91.95 644.72 L92.13 644.56 L92.3 644.37 L92.48 644.15 L92.68 643.9 L92.9 643.6 L93.14 643.26 L93.39 642.9 L93.65 642.5 L93.92 642.07 L94.2 641.61 L94.49 641.12 L94.79 640.58 L95.1 640 L95.42 639.39 L95.74 638.77 L96.08 638.12 L96.42 637.43 L96.78 636.68 L97.14 635.87 L97.52 634.98 L97.9 634 L98.29 632.96 L98.7 631.87 L99.12 630.73 L99.55 629.51 L99.98 628.2 L100.42 626.79 L100.86 625.26 L101.3 623.6 L101.74 621.82 L102.19 619.92 L102.64 617.93 L103.09 615.82 L103.55 613.6 L104 611.28 L104.45 608.84 L104.9 606.3 L105.36 603.51 L105.84 600.43 L106.33 597.16 L106.81 593.82 L107.27 590.52 L107.7 587.37 L108.08 584.5 L108.4 582 L108.64 579.94 L108.81 578.22 L108.93 576.76 L109.01 575.46 L109.09 574.23 L109.18 572.97 L109.31 571.59 L109.5 570 L109.74 568.27 L110.01 566.54 L110.3 564.76 L110.61 562.92 L110.94 560.98 L111.29 558.92 L111.64 556.7 L112 554.3 L112.37 551.67 L112.77 548.8 L113.18 545.76 L113.6 542.61 L114.03 539.4 L114.46 536.19 L114.88 533.03 L115.3 530 L115.71 527.07 L116.1 524.19 L116.49 521.34 L116.89 518.51 L117.29 515.67 L117.7 512.82 L118.14 509.93 L118.6 507 L119.1 503.95 L119.63 500.77 L120.19 497.52 L120.76 494.27 L121.33 491.09 L121.89 488.04 L122.41 485.19 L122.9 482.6 L123.34 480.27 L123.75 478.15 L124.13 476.21 L124.5 474.4 L124.86 472.71 L125.23 471.1 L125.6 469.54 L126 468 L126.42 466.48 L126.86 465.01 L127.31 463.61 L127.76 462.27 L128.21 461.04 L128.65 459.9 L129.08 458.88 L129.5 458 L129.9 457.25 L130.29 456.62 L130.66 456.1 L131.03 455.69 L131.4 455.38 L131.76 455.16 L132.13 455.04 L132.5 455 L132.87 455.04 L133.24 455.16 L133.6 455.38 L133.97 455.69 L134.34 456.1 L134.71 456.62 L135.1 457.25 L135.5 458 L135.91 458.88 L136.34 459.9 L136.78 461.04 L137.22 462.28 L137.67 463.61 L138.11 465.01 L138.56 466.48 L139 468 L139.43 469.54 L139.84 471.1 L140.24 472.71 L140.65 474.4 L141.07 476.21 L141.51 478.15 L141.99 480.27 L142.5 482.6 L143.06 485.19 L143.67 488.04 L144.31 491.09 L144.97 494.28 L145.64 497.52 L146.31 500.77 L146.97 503.95 L147.6 507 L148.23 510 L148.87 513.04 L149.51 516.08 L150.14 519.09 L150.76 522.02 L151.35 524.85 L151.9 527.52 L152.4 530 L152.84 532.26 L153.22 534.31 L153.55 536.22 L153.87 538.01 L154.17 539.73 L154.48 541.44 L154.82 543.18 L155.2 545 L155.62 546.85 L156.05 548.66 L156.51 550.46 L156.97 552.27 L157.45 554.1 L157.94 555.97 L158.44 557.89 L158.95 559.9 L159.47 561.98 L159.99 564.13 L160.53 566.33 L161.08 568.57 L161.64 570.85 L162.21 573.15 L162.8 575.47 L163.4 577.8 L164.02 580.17 L164.66 582.61 L165.31 585.09 L165.97 587.59 L166.65 590.08 L167.32 592.52 L167.99 594.91 L168.65 597.2 L169.3 599.43 L169.95 601.63 L170.59 603.78 L171.23 605.89 L171.88 607.94 L172.54 609.92 L173.21 611.83 L173.9 613.65 L174.6 615.37 L175.3 617.01 L176.01 618.56 L176.74 620.05 L177.48 621.48 L178.24 622.88 L179.03 624.24 L179.85 625.6 L180.71 626.95 L181.61 628.3 L182.53 629.61 L183.48 630.89 L184.44 632.11 L185.4 633.27 L186.36 634.33 L187.3 635.3 L188.24 636.16 L189.17 636.91 L190.11 637.57 L191.05 638.17 L191.99 638.71 L192.93 639.22 L193.87 639.71 L194.8 640.2 L195.73 640.67 L196.65 641.11 L197.58 641.52 L198.5 641.9 L199.42 642.25 L200.35 642.59 L201.27 642.9 L202.2 643.2 L203.11 643.48 L204 643.73 L204.88 643.96 L205.77 644.18 L206.68 644.37 L207.63 644.55 L208.63 644.73 L209.7 644.9 L210.82 645.06 L211.97 645.21 L213.15 645.34 L214.38 645.47 L215.67 645.59 L217.03 645.69 L218.47 645.8 L220 645.9 L221.58 646 L223.19 646.09 L224.84 646.17 L226.58 646.24 L228.44 646.31 L230.44 646.38 L232.61 646.44 L235 646.5 L236.75 646.55 L237.48 646.6 L237.89 646.65 L238.69 646.69 L240.59 646.72 L244.3 646.75 L250.54 646.78 L260 646.8 L274.3 646.81 L293.45 646.82 L315.76 646.82 L339.56 646.82 L363.17 646.81 L384.9 646.81 L403.07 646.8 L416 646.8" stroke="#0000ff" stroke-width="2" fill="none"/>
</g>
<g clip-path="url(#c5)">
<path d="M491.4 646.6V518.5H496.6V646.6Z M496.6 646.6V529.6H501.8V646.6Z M501.8 646.6V540.8H507V646.6Z M507 646.6V551.5H512.2V646.6Z M512.2 646.6V563.6H517.4V646.6Z M517.4 646.6V569.5H522.6V646.6Z M522.6 646.6V579.6H527.8V646.6Z M527.8 646.6V584.4H533V646.6Z M533 646.6V588.9H538.2V646.6Z M538.2 646.6V594H543.4V646.6Z M543.4 646.6V599H548.6V646.6Z M548.6 646.6V604.1H553.8V646.6Z M553.8 646.6V605.8H559V646.6Z M559 646.6V612.9H564.2V646.6Z M564.2 646.6V611.2H569.4V646.6Z M569.4 646.6V613.9H574.6V646.6Z M574.6 646.6V619.3H579.8V646.6Z M579.8 646.6V622.6H585V646.6Z M585 646.6V623.5H590.2V646.6Z M590.2 646.6V624.8H595.4V646.6Z M595.4 646.6V625.5H600.6V646.6Z M600.6 646.6V629.4H605.8V646.6Z M605.8 646.6V629.7H611V646.6Z M611 646.6V631.9H616.2V646.6Z M616.2 646.6V634.5H621.4V646.6Z M621.4 646.6V635.4H626.6V646.6Z M626.6 646.6V635.9H631.8V646.6Z M631.8 646.6V635.4H637V646.6Z M637 646.6V637.9H642.2V646.6Z M642.2 646.6V637.9H647.4V646.6Z M647.4 646.6V639.8H652.6V646.6Z M652.6 646.6V640.8H657.8V646.6Z M657.8 646.6V638.3H663V646.6Z M663 646.6V642.2H668.2V646.6Z M668.2 646.6V641.9H673.4V646.6Z M673.4 646.6V642.4H678.6V646.6Z M678.6 646.6V641.9H683.8V646.6Z M683.8 646.6V642.9H689V646.6Z M689 646.6V642.4H694.2V646.6Z M694.2 646.6V642.4H699.4V646.6Z M699.4 646.6V642.4H704.6V646.6Z M704.6 646.6V643.4H709.8V646.6Z M709.8 646.6V643.4H715V646.6Z M715 646.6V644.6H720.2V646.6Z M720.2 646.6V644.2H725.4V646.6Z M725.4 646.6V645H730.6V646.6Z M730.6 646.6V644.6H735.8V646.6Z M735.8 646.6V645.2H741V646.6Z M741 646.6V645H746.2V646.6Z M746.2 646.6V645.4H751.4V646.6Z M751.4 646.6V645.5H756.6V646.6Z M756.6 646.6V645.3H761.8V646.6Z M761.8 646.6V645.7H767V646.6Z M767 646.6V645.7H772.2V646.6Z M772.2 646.6V645.8H777.4V646.6Z M777.4 646.6V645.8H782.6V646.6Z M782.6 646.6V645.9H787.8V646.6Z M787.8 646.6V645.9H793V646.6Z M793 646.6V645.9H798.2V646.6Z M798.2 646.6V645.9H803.4V646.6Z M803.4 646.6V645.9H808.6V646.6Z M808.6 646.6V645.9H813.8V646.6Z M813.8 646.6V645.9H819V646.6Z" stroke="#000" stroke-width="1.25" fill="#fff" stroke-linejoin="miter"/>
<path d="M489.9 646.6 L489.9 623.79 L495.44 624.2 L500.98 624.6 L506.52 624.99 L512.07 625.37 L517.61 625.75 L523.15 626.12 L528.69 626.49 L534.23 626.84 L539.77 627.19 L545.32 627.54 L550.86 627.88 L556.4 628.21 L561.94 628.54 L567.48 628.86 L573.02 629.17 L578.56 629.48 L584.11 629.78 L589.65 630.08 L595.19 630.37 L600.73 630.66 L606.27 630.94 L611.81 631.22 L617.36 631.49 L622.9 631.76 L628.44 632.02 L633.98 632.28 L639.52 632.53 L645.06 632.78 L650.6 633.02 L656.15 633.26 L661.69 633.5 L667.23 633.73 L672.77 633.96 L678.31 634.18 L683.85 634.4 L689.39 634.61 L694.94 634.82 L700.48 635.03 L706.02 635.23 L711.56 635.43 L717.1 635.63 L722.64 635.82 L728.19 636.01 L733.73 636.2 L739.27 636.38 L744.81 636.56 L750.35 636.73 L755.89 636.91 L761.43 637.08 L766.98 637.24 L772.52 637.41 L778.06 637.57 L783.6 637.72 L789.14 637.88 L794.68 638.03 L800.23 638.18 L805.77 638.33 L811.31 638.47 L816.85 638.61" stroke="#ff0000" stroke-width="2" stroke-dasharray="11.3 5.1" stroke-dashoffset="0" fill="none"/>
<path d="M489.4 646.6 L489.4 492.01 L491.05 497.45 L492.69 502.7 L494.34 507.76 L495.98 512.64 L497.63 517.36 L499.27 521.9 L500.92 526.29 L502.56 530.52 L504.21 534.61 L505.85 538.55 L507.5 542.35 L509.15 546.02 L510.79 549.56 L512.44 552.97 L514.08 556.27 L515.73 559.45 L517.37 562.52 L519.02 565.48 L520.66 568.33 L522.31 571.09 L523.96 573.75 L525.6 576.31 L527.25 578.79 L528.89 581.17 L530.54 583.48 L532.18 585.7 L533.83 587.85 L535.47 589.92 L537.12 591.91 L538.76 593.84 L540.41 595.7 L542.06 597.49 L543.7 599.22 L545.35 600.89 L546.99 602.51 L548.64 604.06 L550.28 605.56 L551.93 607.01 L553.57 608.4 L555.22 609.75 L556.86 611.05 L558.51 612.31 L560.16 613.52 L561.8 614.68 L563.45 615.81 L565.09 616.9 L566.74 617.95 L568.38 618.96 L570.03 619.94 L571.67 620.88 L573.32 621.79 L574.96 622.66 L576.61 623.51 L578.26 624.33 L579.9 625.12 L581.55 625.88 L583.19 626.61 L584.84 627.32 L586.48 628 L588.13 628.66 L589.77 629.29 L591.42 629.91 L593.07 630.5 L594.71 631.07 L596.36 631.62 L598 632.15 L599.65 632.67 L601.29 633.16 L602.94 633.64 L604.58 634.1 L606.23 634.54 L607.87 634.97 L609.52 635.39 L611.17 635.79 L612.81 636.17 L614.46 636.54 L616.1 636.9 L617.75 637.25 L619.39 637.58 L621.04 637.9 L622.68 638.21 L624.33 638.51 L625.97 638.8 L627.62 639.08 L629.27 639.35 L630.91 639.61 L632.56 639.86 L634.2 640.11 L635.85 640.34 L637.49 640.56 L639.14 640.78 L640.78 640.99 L642.43 641.19 L644.07 641.39 L645.72 641.58 L647.37 641.76 L649.01 641.93 L650.66 642.1 L652.3 642.27 L653.95 642.42 L655.59 642.58 L657.24 642.72 L658.88 642.86 L660.53 643 L662.18 643.13 L663.82 643.26 L665.47 643.38 L667.11 643.5 L668.76 643.61 L670.4 643.73 L672.05 643.83 L673.69 643.93 L675.34 644.03 L676.98 644.13 L678.63 644.22 L680.28 644.31 L681.92 644.4 L683.57 644.48 L685.21 644.56 L686.86 644.63 L688.5 644.71 L690.15 644.78 L691.79 644.85 L693.44 644.92 L695.08 644.98 L696.73 645.04 L698.38 645.1 L700.02 645.16 L701.67 645.22 L703.31 645.27 L704.96 645.32 L706.6 645.37 L708.25 645.42 L709.89 645.47 L711.54 645.51 L713.18 645.56 L714.83 645.6 L716.48 645.64 L718.12 645.68 L719.77 645.72 L721.41 645.75 L723.06 645.79 L724.7 645.82 L726.35 645.85 L727.99 645.89 L729.64 645.92 L731.29 645.94 L732.93 645.97 L734.58 646 L736.22 646.03 L737.87 646.05 L739.51 646.08 L741.16 646.1 L742.8 646.12 L744.45 646.15 L746.09 646.17 L747.74 646.19 L749.39 646.21 L751.03 646.23 L752.68 646.24 L754.32 646.26 L755.97 646.28 L757.61 646.3 L759.26 646.31 L760.9 646.33 L762.55 646.34 L764.19 646.36 L765.84 646.37 L767.49 646.38 L769.13 646.4 L770.78 646.41 L772.42 646.42 L774.07 646.43 L775.71 646.44 L777.36 646.45 L779 646.46 L780.65 646.47 L782.29 646.48 L783.94 646.49 L785.59 646.5 L787.23 646.51 L788.88 646.52 L790.52 646.53 L792.17 646.54 L793.81 646.54 L795.46 646.55 L797.1 646.56 L798.75 646.56 L800.4 646.57 L802.04 646.58 L803.69 646.58 L805.33 646.59 L806.98 646.59 L808.62 646.6 L810.27 646.61 L811.91 646.61 L813.56 646.62 L815.2 646.62 L816.85 646.62" stroke="#0000ff" stroke-width="2" fill="none" stroke-linejoin="round"/>
</g>
<text x="87.65" y="238.9" text-anchor="middle" class="tk">0</text>
<text x="196.4" y="238.9" text-anchor="middle" class="tk">100</text>
<text x="306.35" y="238.9" text-anchor="middle" class="tk">200</text>
<text x="415.7" y="238.9" text-anchor="middle" class="tk">300</text>
<text x="72.85" y="215.8" text-anchor="end" class="tk">0</text>
<text x="71.65" y="133.95" text-anchor="end" class="tk">0.01</text>
<text x="71.65" y="52.1" text-anchor="end" class="tk">0.02</text>
<path d="M87.85 45.3H415.9V209H87.85ZM87.85 209V218M197.2 209V218M306.55 209V218M415.9 209V218M87.85 209H78.85M87.85 127.15H78.85M87.85 45.3H78.85" stroke="#000" stroke-width="1.35" fill="none"/>
<text x="488.65" y="238.9" text-anchor="middle" class="tk">0</text>
<text x="597.38" y="238.9" text-anchor="middle" class="tk">10</text>
<text x="707.32" y="238.9" text-anchor="middle" class="tk">20</text>
<text x="816.65" y="238.9" text-anchor="middle" class="tk">30</text>
<text x="473.85" y="215.8" text-anchor="end" class="tk">0</text>
<text x="473.05" y="133.95" text-anchor="end" class="tk">0.1</text>
<text x="473.05" y="52.1" text-anchor="end" class="tk">0.2</text>
<path d="M488.85 45.3H816.85V209H488.85ZM488.85 209V218M598.18 209V218M707.52 209V218M816.85 209V218M488.85 209H479.85M488.85 127.15H479.85M488.85 45.3H479.85" stroke="#000" stroke-width="1.35" fill="none"/>
<text x="87.65" y="457.8" text-anchor="middle" class="tk">0</text>
<text x="196.4" y="457.8" text-anchor="middle" class="tk">1</text>
<text x="306.35" y="457.8" text-anchor="middle" class="tk">2</text>
<text x="415.7" y="457.8" text-anchor="middle" class="tk">3</text>
<text x="72.85" y="434.7" text-anchor="end" class="tk">0</text>
<text x="72.85" y="352.68" text-anchor="end" class="tk">1</text>
<text x="72.85" y="270.65" text-anchor="end" class="tk">2</text>
<path d="M87.85 263.85H415.9V427.9H87.85ZM87.85 427.9V436.9M197.2 427.9V436.9M306.55 427.9V436.9M415.9 427.9V436.9M87.85 427.9H78.85M87.85 345.88H78.85M87.85 263.85H78.85" stroke="#000" stroke-width="1.35" fill="none"/>
<text x="488.65" y="457.8" text-anchor="middle" class="tk">0</text>
<text x="597.98" y="457.8" text-anchor="middle" class="tk">0.1</text>
<text x="707.32" y="457.8" text-anchor="middle" class="tk">0.2</text>
<text x="816.65" y="457.8" text-anchor="middle" class="tk">0.3</text>
<text x="473.85" y="434.7" text-anchor="end" class="tk">0</text>
<text x="473.05" y="352.68" text-anchor="end" class="tk">10</text>
<text x="473.05" y="270.65" text-anchor="end" class="tk">20</text>
<path d="M488.85 263.85H816.85V427.9H488.85ZM488.85 427.9V436.9M598.18 427.9V436.9M707.52 427.9V436.9M816.85 427.9V436.9M488.85 427.9H479.85M488.85 345.88H479.85M488.85 263.85H479.85" stroke="#000" stroke-width="1.35" fill="none"/>
<text x="87.65" y="676.5" text-anchor="middle" class="tk">0</text>
<text x="251.67" y="676.5" text-anchor="middle" class="tk">0.1</text>
<text x="415.7" y="676.5" text-anchor="middle" class="tk">0.2</text>
<text x="72.85" y="653.4" text-anchor="end" class="tk">0</text>
<text x="72.45" y="598.7" text-anchor="end" class="tk">10</text>
<text x="72.45" y="544" text-anchor="end" class="tk">20</text>
<text x="72.45" y="489.3" text-anchor="end" class="tk">30</text>
<path d="M87.85 482.5H415.9V646.6H87.85ZM87.85 646.6V655.6M251.87 646.6V655.6M415.9 646.6V655.6M87.85 646.6H78.85M87.85 591.9H78.85M87.85 537.2H78.85M87.85 482.5H78.85" stroke="#000" stroke-width="1.35" fill="none"/>
<text x="488.65" y="676.5" text-anchor="middle" class="tk">0</text>
<text x="597.38" y="676.5" text-anchor="middle" class="tk">10</text>
<text x="707.32" y="676.5" text-anchor="middle" class="tk">20</text>
<text x="816.65" y="676.5" text-anchor="middle" class="tk">30</text>
<text x="473.85" y="653.4" text-anchor="end" class="tk">0</text>
<text x="473.05" y="620.58" text-anchor="end" class="tk">0.05</text>
<text x="473.05" y="587.76" text-anchor="end" class="tk">0.1</text>
<text x="473.05" y="554.94" text-anchor="end" class="tk">0.15</text>
<text x="473.05" y="522.12" text-anchor="end" class="tk">0.2</text>
<text x="473.05" y="489.3" text-anchor="end" class="tk">0.25</text>
<path d="M488.85 482.5H816.85V646.6H488.85ZM488.85 646.6V655.6M598.18 646.6V655.6M707.52 646.6V655.6M816.85 646.6V655.6M543.52 646.6V651.1M652.85 646.6V651.1M762.18 646.6V651.1M488.85 646.6H479.85M488.85 613.78H479.85M488.85 580.96H479.85M488.85 548.14H479.85M488.85 515.32H479.85M488.85 482.5H479.85" stroke="#000" stroke-width="1.35" fill="none"/>
<path d="M87.85 208.55H415.9" stroke="#800000" stroke-width="1.5" stroke-dasharray="8.7 4.6" stroke-dashoffset="1.15" fill="none"/>
<path d="M488.85 208.55H816.85" stroke="#800000" stroke-width="1.5" stroke-dasharray="8.4 4.7" stroke-dashoffset="3.95" fill="none"/>
<path d="M100.3 427.45H415.9" stroke="#700000" stroke-width="1.2" stroke-dasharray="11.7 4.8" stroke-dashoffset="0" fill="none"/>
<text x="451.2" y="19.8" text-anchor="middle" class="t25" style="word-spacing:0.5px"><tspan class="i">M</tspan> = 200, <tspan class="i">N</tspan> = 8</text>
<text x="215.9" y="70.1" class="t25"><tspan class="i">q</tspan> = 0.01</text>
<text x="397.45" y="67.6" text-anchor="middle" class="t25">(a)</text>
<text x="625.9" y="70.1" class="t25"><tspan class="i">q</tspan> = 0.1</text>
<text x="799" y="68.6" text-anchor="middle" class="t25">(b)</text>
<text x="230.9" y="288" class="t25"><tspan class="i">q</tspan> = 1</text>
<text x="397.45" y="287.45" text-anchor="middle" class="t25">(c)</text>
<text x="628" y="290" class="t25"><tspan class="i">q</tspan> = 10</text>
<text x="795.9" y="288" text-anchor="middle" class="t25">(d)</text>
<text x="215.1" y="508.75" class="t25"><tspan class="i">q</tspan> = 100</text>
<text x="396.6" y="506.6" text-anchor="middle" class="t25">(e)</text>
<text x="613.6" y="508" class="t25"><tspan class="i">q</tspan> = 1000</text>
<text x="797" y="506" text-anchor="middle" class="t25">(f)</text>
<text x="255.5" y="701.5" text-anchor="middle" class="t27">time <tspan class="i">t</tspan></text>
<text x="653.4" y="701.5" text-anchor="middle" class="t27">time <tspan class="i">t</tspan></text>
<text transform="translate(22.3 346.2) rotate(-90)" text-anchor="middle" class="t28">probability <tspan class="i">G</tspan><tspan style="letter-spacing:0.3px">({200,...},</tspan><tspan class="i">t</tspan>)</text>
</svg>
</body></html>
